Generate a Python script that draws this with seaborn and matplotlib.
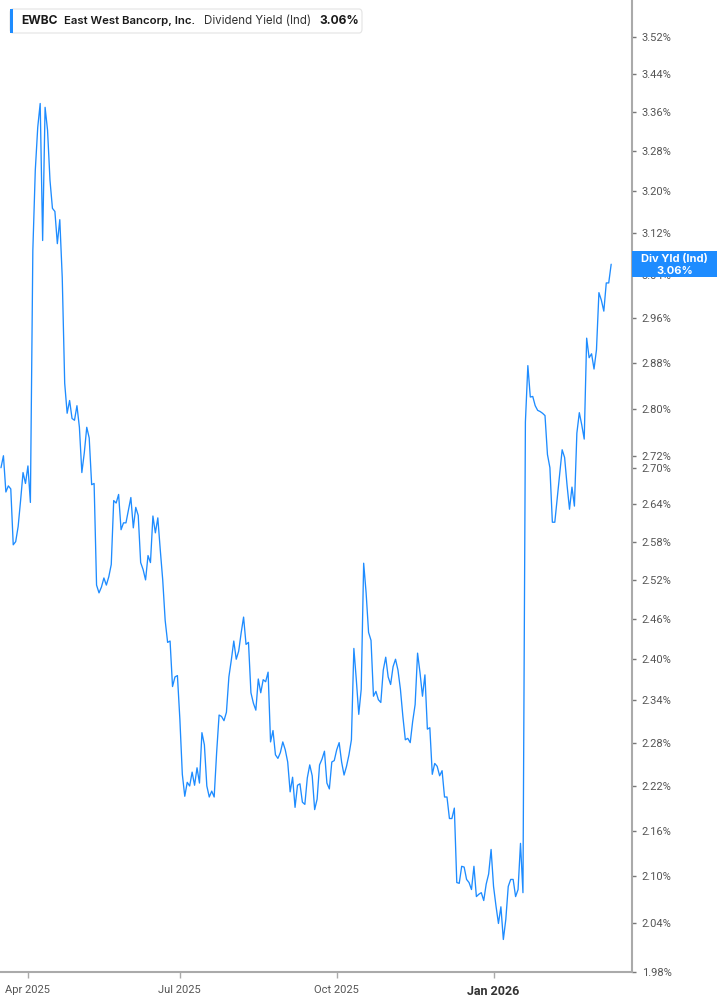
import numpy as np
import pandas as pd
import seaborn as sns
import matplotlib.pyplot as plt
from matplotlib.patches import Rectangle, FancyBboxPatch
from matplotlib.ticker import FixedLocator, NullLocator, FuncFormatter

# NYSE holidays inside the window
holidays = ["2025-04-18", "2025-05-26", "2025-06-19", "2025-07-04", "2025-09-01",
            "2025-11-27", "2025-12-25", "2026-01-01", "2026-01-19", "2026-02-16"]
start_date = "2025-03-17"
end_date = "2026-03-13"

# dividend yield (%), one value per trading day
div_yield = [
    2.70, 2.72, 2.66, 2.67, 2.665, 2.575, 2.58, 2.604, 2.646, 2.692,
    2.674, 2.703, 2.643, 3.086, 3.242, 3.329, 3.378, 3.105, 3.370, 3.323,
    3.222, 3.167, 3.161, 3.099, 3.145, 3.035, 2.844, 2.792, 2.814, 2.783,
    2.780, 2.805, 2.768, 2.692, 2.725, 2.768, 2.750, 2.672, 2.674, 2.512,
    2.500, 2.509, 2.523, 2.512, 2.525, 2.544, 2.646, 2.642, 2.656, 2.599,
    2.610, 2.610, 2.630, 2.651, 2.602, 2.635, 2.622, 2.547, 2.536, 2.520,
    2.558, 2.547, 2.621, 2.594, 2.618, 2.567, 2.520, 2.458, 2.425, 2.427,
    2.360, 2.374, 2.376, 2.313, 2.236, 2.206, 2.225, 2.220, 2.239, 2.221,
    2.245, 2.224, 2.294, 2.277, 2.220, 2.205, 2.213, 2.205, 2.266, 2.319,
    2.317, 2.311, 2.323, 2.374, 2.399, 2.427, 2.400, 2.412, 2.439, 2.463,
    2.422, 2.425, 2.351, 2.336, 2.326, 2.371, 2.351, 2.370, 2.367, 2.381,
    2.281, 2.297, 2.263, 2.258, 2.266, 2.281, 2.270, 2.253, 2.212, 2.232,
    2.191, 2.221, 2.223, 2.198, 2.195, 2.231, 2.249, 2.234, 2.188, 2.202,
    2.249, 2.257, 2.268, 2.224, 2.216, 2.253, 2.255, 2.270, 2.280, 2.253,
    2.235, 2.247, 2.263, 2.284, 2.416, 2.370, 2.320, 2.356, 2.546, 2.500,
    2.440, 2.428, 2.346, 2.353, 2.341, 2.337, 2.384, 2.403, 2.374, 2.363,
    2.389, 2.400, 2.384, 2.356, 2.317, 2.284, 2.286, 2.280, 2.310, 2.334,
    2.409, 2.380, 2.346, 2.377, 2.299, 2.301, 2.236, 2.251, 2.247, 2.234,
    2.241, 2.205, 2.205, 2.176, 2.176, 2.190, 2.092, 2.091, 2.113, 2.112,
    2.096, 2.092, 2.083, 2.113, 2.074, 2.077, 2.079, 2.069, 2.090, 2.103,
    2.135, 2.087, 2.062, 2.040, 2.061, 2.020, 2.045, 2.087, 2.096, 2.096,
    2.074, 2.083, 2.143, 2.079, 2.777, 2.875, 2.820, 2.821, 2.805, 2.797,
    2.795, 2.792, 2.788, 2.722, 2.700, 2.611, 2.611, 2.651, 2.690, 2.730,
    2.717, 2.671, 2.632, 2.668, 2.637, 2.758, 2.793, 2.772, 2.748, 2.924,
    2.889, 2.896, 2.869, 2.903, 3.007, 2.993, 2.973, 3.025, 3.025, 3.060,
]

ytick_values = [1.98, 2.04, 2.10, 2.16, 2.22, 2.28, 2.34, 2.40, 2.46, 2.52, 2.58,
                2.64, 2.70, 2.72, 2.80, 2.88, 2.96, 3.04, 3.12, 3.20, 3.28, 3.36,
                3.44, 3.52]
xtick_months = ["2025-04", "2025-07", "2025-10", "2026-01"]
xtick_labels = ["Apr 2025", "Jul 2025", "Oct 2025", "Jan 2026"]

ticker = "EWBC"
company = "East West Bancorp, Inc."
metric = "Dividend Yield (Ind)"
last_label = "3.06%"

dates = pd.bdate_range(start_date, end_date, freq="C", holidays=holidays)
n = min(len(dates), len(div_yield))
df = pd.DataFrame({"date": dates[:n], "idx": np.arange(n), "yield": div_yield[:n]})

BLUE = "#1e8cff"
W, H = 717, 1005

sns.set_style("white")
plt.rcParams["font.family"] = ["Inter", "DejaVu Sans"]

fig = plt.figure(figsize=(W / 100, H / 100), dpi=100)
ax = fig.add_axes([0, 1 - 972 / H, 632 / W, 972 / H])

sns.lineplot(data=df, x="idx", y="yield", ax=ax, color=BLUE, linewidth=0.95)

ax.set_yscale("log")
ax.set_ylim(1.98, 3.60)
ax.set_xlim(-0.4, 257.5)
ax.yaxis.set_major_locator(FixedLocator(ytick_values))
ax.yaxis.set_minor_locator(NullLocator())
ax.yaxis.set_major_formatter(FuncFormatter(lambda v, p: f"{v:.2f}%"))
ax.yaxis.tick_right()
ax.set_xlabel("")
ax.set_ylabel("")

month_str = df["date"].dt.strftime("%Y-%m")
xpos = [int(df.loc[month_str == m, "idx"].iloc[0]) for m in xtick_months]
ax.set_xticks(xpos)
ax.set_xticklabels(xtick_labels)

for s in ["top", "left"]:
    ax.spines[s].set_visible(False)
for s in ["right", "bottom"]:
    ax.spines[s].set_color("#aaaaaa")
    ax.spines[s].set_linewidth(1.5)

ax.tick_params(axis="y", which="major", right=True, left=False, length=3, width=1,
               color="#777777", labelcolor="#555555", labelsize=8, pad=4)
ax.tick_params(axis="x", which="major", bottom=True, length=4, width=1,
               color="#aaaaaa", labelcolor="#555555", labelsize=8, pad=5)
for lab in ax.get_yticklabels():
    lab.set_fontfamily(["Roboto", "DejaVu Sans"])
for lab in ax.get_xticklabels():
    lab.set_fontfamily(["Roboto", "DejaVu Sans"])
    if lab.get_text() == "Jan 2026":
        lab.set_fontweight("bold")
        lab.set_color("#333333")
        lab.set_fontsize(9)

# last value tag on the right axis
ypix = ax.transData.transform((0, df["yield"].iloc[-1]))[1]
yfig = ypix / (H * fig.dpi / 100)
tag_h = 26 / H
fig.patches.append(Rectangle((632 / W, yfig - tag_h / 2), (W - 632) / W, tag_h,
                             transform=fig.transFigure, facecolor=BLUE,
                             edgecolor="none", zorder=5))
fig.text((632 + W) / 2 / W, yfig + 5.5 / H, "Div Yld (Ind)", ha="center", va="center",
         color="white", fontsize=8, fontweight="bold", zorder=6)
fig.text((632 + W) / 2 / W, yfig - 6.5 / H, last_label, ha="center", va="center",
         color="white", fontsize=8, fontweight="bold", zorder=6)

# title box top-left
fig.patches.append(FancyBboxPatch((10 / W, 1 - 33 / H), 352 / W, 24 / H,
                                  boxstyle="round,pad=0,rounding_size=0.004",
                                  transform=fig.transFigure, facecolor="white",
                                  edgecolor="#e3e3e3", linewidth=0.8, zorder=5))
fig.patches.append(Rectangle((10 / W, 1 - 33 / H), 3 / W, 24 / H,
                             transform=fig.transFigure, facecolor=BLUE,
                             edgecolor="none", zorder=6))
ty = 1 - 21 / H
fig.text(21 / W, ty, ticker, ha="left", va="center", fontsize=8.7,
         fontweight="bold", color="#1a1a1a", zorder=7)
fig.text(64 / W, ty, company, ha="left", va="center", fontsize=8.2,
         fontweight="semibold", color="#1a1a1a", zorder=7)
fig.text(204 / W, ty, metric, ha="left", va="center", fontsize=8.3,
         color="#333333", zorder=7)
fig.text(319 / W, ty, last_label, ha="left", va="center", fontsize=8.7,
         fontweight="bold", color="#1a1a1a", zorder=7)

fig.savefig("out.png", dpi=100)
